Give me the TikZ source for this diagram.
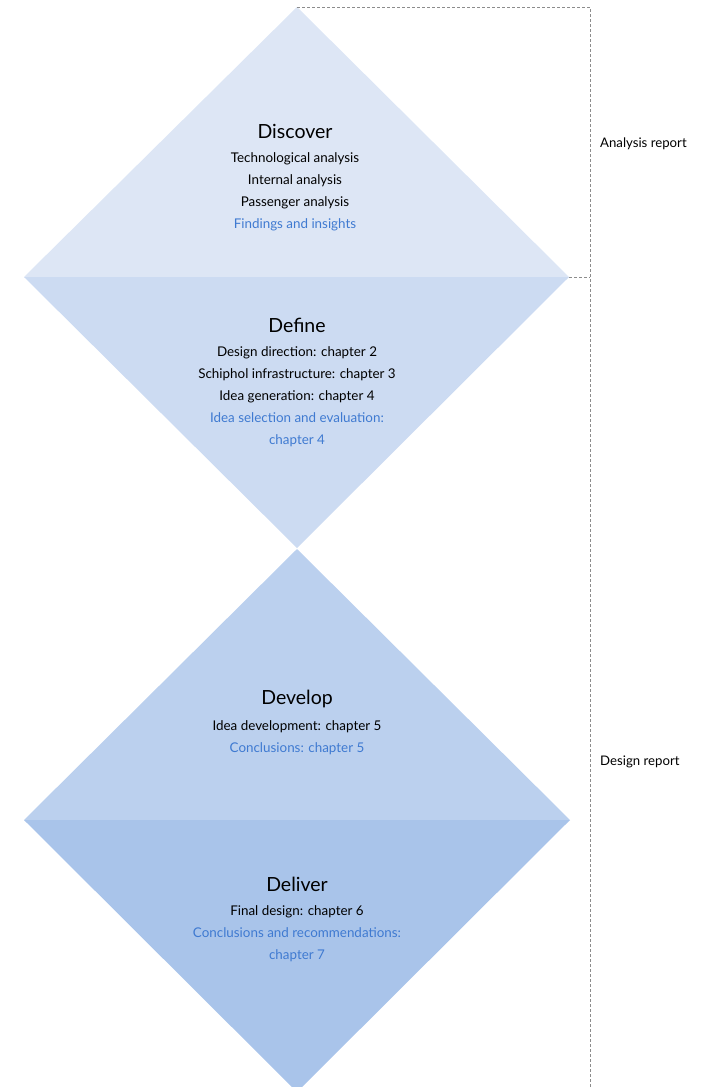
\documentclass[tikz,border=0pt]{standalone}
\usepackage{fontspec}
\setmainfont{Lato}
\definecolor{discfill}{RGB}{221, 230, 245}
\definecolor{deffill}{RGB}{204, 219, 242}
\definecolor{devfill}{RGB}{187, 208, 238}
\definecolor{delfill}{RGB}{169, 196, 234}
\definecolor{linkblue}{RGB}{63, 122, 209}
\definecolor{dashgray}{RGB}{140, 140, 140}
\usetikzlibrary{positioning, calc}

\begin{document}
\begin{tikzpicture}[x=1pt, y=-1pt,
  phase/.style={font=\fontsize{19.5}{22}\selectfont, inner sep=0pt},
  body/.style={font=\fontsize{13.4}{22}\selectfont, align=center, anchor=north, inner sep=0pt},
  report/.style={font=\fontsize{13.2}{15}\selectfont, anchor=west, inner sep=0pt},
  bracket/.style={draw=dashgray, dash pattern=on 3pt off 2pt, line width=0.8pt}
]
  \useasboundingbox (0,0) rectangle (702,1087);

  % corners of the two diamonds
  \coordinate (topA) at (297,7);
  \coordinate (leftA) at (24,277);
  \coordinate (rightA) at (569,277);
  \coordinate (botA) at (297,548);
  \coordinate (topB) at (297,549);
  \coordinate (leftB) at (24,820);
  \coordinate (rightB) at (570,820);
  \coordinate (botB) at (297,1092);

  \fill[discfill] (topA) -- (rightA) -- (leftA) -- cycle;
  \fill[deffill] (leftA) -- (rightA) -- (botA) -- cycle;
  \fill[devfill] (topB) -- (rightB) -- (leftB) -- cycle;
  \fill[delfill] (leftB) -- (rightB) -- (botB) -- cycle;

  % phases
  \node[phase] (discover) at (295,131) {Discover};
  \node[body] (discoverTxt) at (295,152) {
    Technological analysis\\
    Internal analysis\\
    Passenger analysis\\
    \textcolor{linkblue}{Findings and insights}
  };
  \node[phase] (define) at (297,325) {Define};
  \node[body] (defineTxt) at (297,346) {
    Design direction: chapter 2\\
    Schiphol infrastructure: chapter 3\\
    Idea generation: chapter 4\\
    \textcolor{linkblue}{Idea selection and evaluation:}\\
    \textcolor{linkblue}{chapter 4}
  };
  \node[phase] (develop) at (297,699) {Develop};
  \node[body] (developTxt) at (297,720) {
    Idea development: chapter 5\\
    \textcolor{linkblue}{Conclusions: chapter 5}
  };
  \node[phase] (deliver) at (297,884) {Deliver};
  \node[body] (deliverTxt) at (297,905) {
    Final design: chapter 6\\
    \textcolor{linkblue}{Conclusions and recommendations:}\\
    \textcolor{linkblue}{chapter 7}
  };

  % reports
  \coordinate (brTop) at (590,7);
  \coordinate (brMid) at (590,277);
  \coordinate (brEnd) at (590,1087);
  \draw[bracket] (topA) -- (brTop) -- (brEnd);
  \draw[bracket] (rightA) -- (brMid);
  \node[report] (analysis) at (600,144) {Analysis report};
  \node[report] (design) at (600,762) {Design report};
\end{tikzpicture}
\end{document}
